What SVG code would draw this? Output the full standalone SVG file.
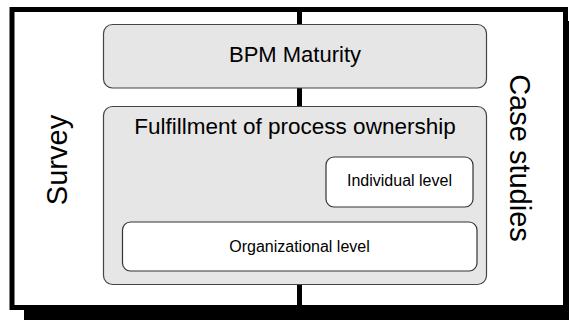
<svg xmlns="http://www.w3.org/2000/svg" width="569" height="320" viewBox="0 0 569 320">
  <style>
    .lbl { font-family: "Liberation Sans", Arial, sans-serif; fill: #000; text-anchor: middle; }
    .gray { fill: #e6e6e6; stroke: #444; stroke-width: 1.2; }
    .white { fill: #fff; stroke: #333; stroke-width: 1.2; }
  </style>

  <!-- frame with drop shadow -->
  <g id="frame">
    <rect x="24" y="21" width="560" height="310" fill="#000"/>
    <rect x="12" y="9.5" width="553.5" height="298" fill="#fff" stroke="#000" stroke-width="5"/>
  </g>

  <!-- vertical divider -->
  <g id="connectors">
    <line x1="299.5" y1="9" x2="299.5" y2="307" stroke="#000" stroke-width="5"/>
  </g>

  <g id="survey">
    <text class="lbl" font-size="29" transform="translate(67,160) rotate(-90)">Survey</text>
  </g>

  <g id="case-studies">
    <text class="lbl" font-size="29" transform="translate(510,158) rotate(90)">Case studies</text>
  </g>

  <g id="bpm-maturity">
    <rect class="gray" x="103.5" y="24.5" width="383" height="63.5" rx="9"/>
    <text class="lbl" font-size="22" x="295" y="62">BPM Maturity</text>
  </g>

  <g id="process-ownership">
    <rect class="gray" x="103.5" y="106.5" width="383" height="178" rx="9"/>
    <text class="lbl" font-size="22.5" x="295" y="133.5">Fulfillment of process ownership</text>
  </g>

  <g id="individual-level">
    <rect class="white" x="326" y="157" width="147" height="50" rx="8"/>
    <text class="lbl" font-size="16" x="399.5" y="186">Individual level</text>
  </g>

  <g id="organizational-level">
    <rect class="white" x="122.5" y="222" width="354.5" height="49" rx="8"/>
    <text class="lbl" font-size="16" x="299.5" y="251.5">Organizational level</text>
  </g>
</svg>
